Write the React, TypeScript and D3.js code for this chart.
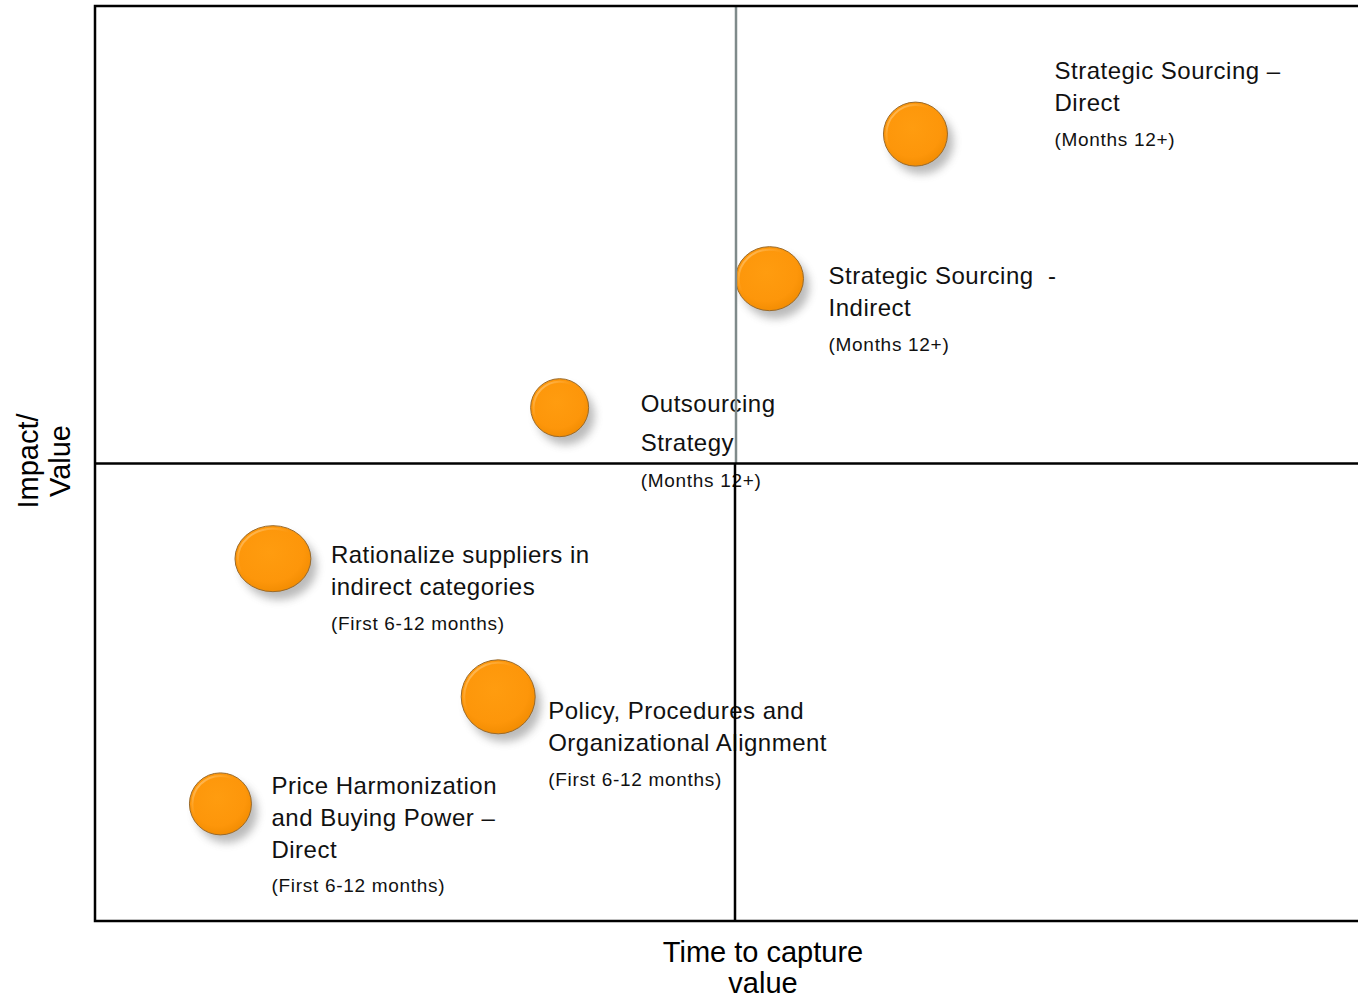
import React from "react";
import * as d3 from "d3";

const initiatives = [
  "Strategic Sourcing – Direct",
  "Strategic Sourcing - Indirect",
  "Outsourcing Strategy",
  "Rationalize suppliers in indirect categories",
  "Policy, Procedures and Organizational Alignment",
  "Price Harmonization and Buying Power – Direct",
];
const timeToCapture = [6.41, 5.27, 3.63, 1.39, 3.15, 0.98];
const impactValue = [8.6, 7.02, 5.61, 3.96, 2.45, 1.28];
const bubbleSize = [32, 32, 29, 33, 37, 31];
const labelLines = [
  ["Strategic Sourcing –", "Direct"],
  ["Strategic Sourcing  -", "Indirect"],
  ["Outsourcing", "Strategy"],
  ["Rationalize suppliers in", "indirect categories"],
  ["Policy, Procedures and", "Organizational Alignment"],
  ["Price Harmonization", "and Buying Power –", "Direct"],
];
const timeframes = [
  "(Months 12+)",
  "(Months 12+)",
  "(Months 12+)",
  "(First 6-12 months)",
  "(First 6-12 months)",
  "(First 6-12 months)",
];
const xDomain = [0, 10];
const yDomain = [0, 10];
const xMid = 5;
const yMid = 5;

// layout: label offsets relative to bubble centre
const labelLayout = [
  { dx: 139, dy: -55, gap: 32, subGap: 35 },
  { dx: 59, dy: 5, gap: 32, subGap: 35 },
  { dx: 81, dy: 4, gap: 39, subGap: 36 },
  { dx: 58, dy: 4, gap: 32, subGap: 35 },
  { dx: 50, dy: 22, gap: 32, subGap: 35 },
  { dx: 51, dy: -10, gap: 32, subGap: 34 },
];
const bubbleAspect = [1, 1.06, 1, 1.15, 1, 1];

const FONT = "'Liberation Sans', Arial, sans-serif";

export default function App() {
  const W = 1358;
  const H = 1000;
  const left = 95;
  const top = 6;
  const bottom = 921;
  const right = 1375;
  const x = d3.scaleLinear().domain(xDomain).range([left, right]);
  const y = d3.scaleLinear().domain(yDomain).range([bottom, top]);
  const r = d3.scaleLinear().domain([0, 40]).range([0, 40]);

  const data = initiatives.map((name, i) => ({
    name,
    cx: x(timeToCapture[i]),
    cy: y(impactValue[i]),
    r: r(bubbleSize[i]),
    aspect: bubbleAspect[i],
    lines: labelLines[i],
    sub: timeframes[i],
    layout: labelLayout[i],
  }));

  return (
    <svg
      width={W}
      height={H}
      style={{ position: "absolute", left: 0, top: 0, background: "#fff" }}
      fontFamily={FONT}
    >
      <defs>
        <radialGradient id="orb" cx="45%" cy="40%" r="65%">
          <stop offset="0%" stopColor="#ff9c0f" />
          <stop offset="70%" stopColor="#fd960a" />
          <stop offset="100%" stopColor="#f08a00" />
        </radialGradient>
        <linearGradient id="shine" x1="0" y1="0" x2="1" y2="1">
          <stop offset="0%" stopColor="#ffd9a0" stopOpacity="0.9" />
          <stop offset="40%" stopColor="#ffb347" stopOpacity="0" />
        </linearGradient>
        <filter id="shadow" x="-50%" y="-50%" width="200%" height="200%">
          <feGaussianBlur stdDeviation="4" />
        </filter>
      </defs>

      {/* bubbles */}
      {data.map((d, i) => {
        const rx = d.r * d.aspect;
        const ry = d.r;
        return (
          <g key={i}>
            <ellipse
              cx={d.cx + 6}
              cy={d.cy + 8}
              rx={rx}
              ry={ry}
              fill="#555"
              opacity={0.4}
              filter="url(#shadow)"
            />
            <ellipse
              cx={d.cx}
              cy={d.cy}
              rx={rx}
              ry={ry}
              fill="url(#orb)"
              stroke="#9a6a2a"
              strokeWidth={1}
            />
            <ellipse
              cx={d.cx}
              cy={d.cy}
              rx={rx - 3}
              ry={ry - 3}
              fill="none"
              stroke="url(#shine)"
              strokeWidth={2}
            />
          </g>
        );
      })}

      {/* labels */}
      {data.map((d, i) => {
        const tx = d.cx + d.layout.dx;
        const ty = d.cy + d.layout.dy;
        const n = d.lines.length;
        return (
          <g key={"l" + i}>
            {d.lines.map((line, j) => (
              <text
                key={j}
                x={tx}
                y={ty + j * d.layout.gap}
                fontSize={24}
                letterSpacing={0.5}
                fill="#111"
                style={{ whiteSpace: "pre" }}
              >
                {line}
              </text>
            ))}
            <text
              x={tx}
              y={ty + (n - 1) * d.layout.gap + d.layout.subGap}
              fontSize={19}
              letterSpacing={0.7}
              fill="#111"
            >
              {d.sub}
            </text>
          </g>
        );
      })}

      {/* quadrant lines */}
      <line
        x1={x(xMid) + 1}
        x2={x(xMid) + 1}
        y1={top}
        y2={y(yMid)}
        stroke="#7f8a8a"
        strokeWidth={2.5}
      />
      <line
        x1={x(xMid)}
        x2={x(xMid)}
        y1={y(yMid)}
        y2={bottom}
        stroke="#000"
        strokeWidth={2.5}
      />
      <line
        x1={left}
        x2={W}
        y1={y(yMid)}
        y2={y(yMid)}
        stroke="#000"
        strokeWidth={2.5}
      />

      {/* frame */}
      <path
        d={`M${W},${top} H${left} V${bottom} H${W}`}
        fill="none"
        stroke="#000"
        strokeWidth={2.5}
      />

      {/* axis titles */}
      <text x={763} y={962} textAnchor="middle" fontSize={29} fill="#000">
        Time to capture
      </text>
      <text x={763} y={993} textAnchor="middle" fontSize={29} fill="#000">
        value
      </text>
      <g transform={`translate(38,461) rotate(-90)`}>
        <text x={0} y={0} textAnchor="middle" fontSize={29} fill="#000">
          Impact/
        </text>
        <text x={0} y={32} textAnchor="middle" fontSize={29} fill="#000">
          Value
        </text>
      </g>
    </svg>
  );
}
